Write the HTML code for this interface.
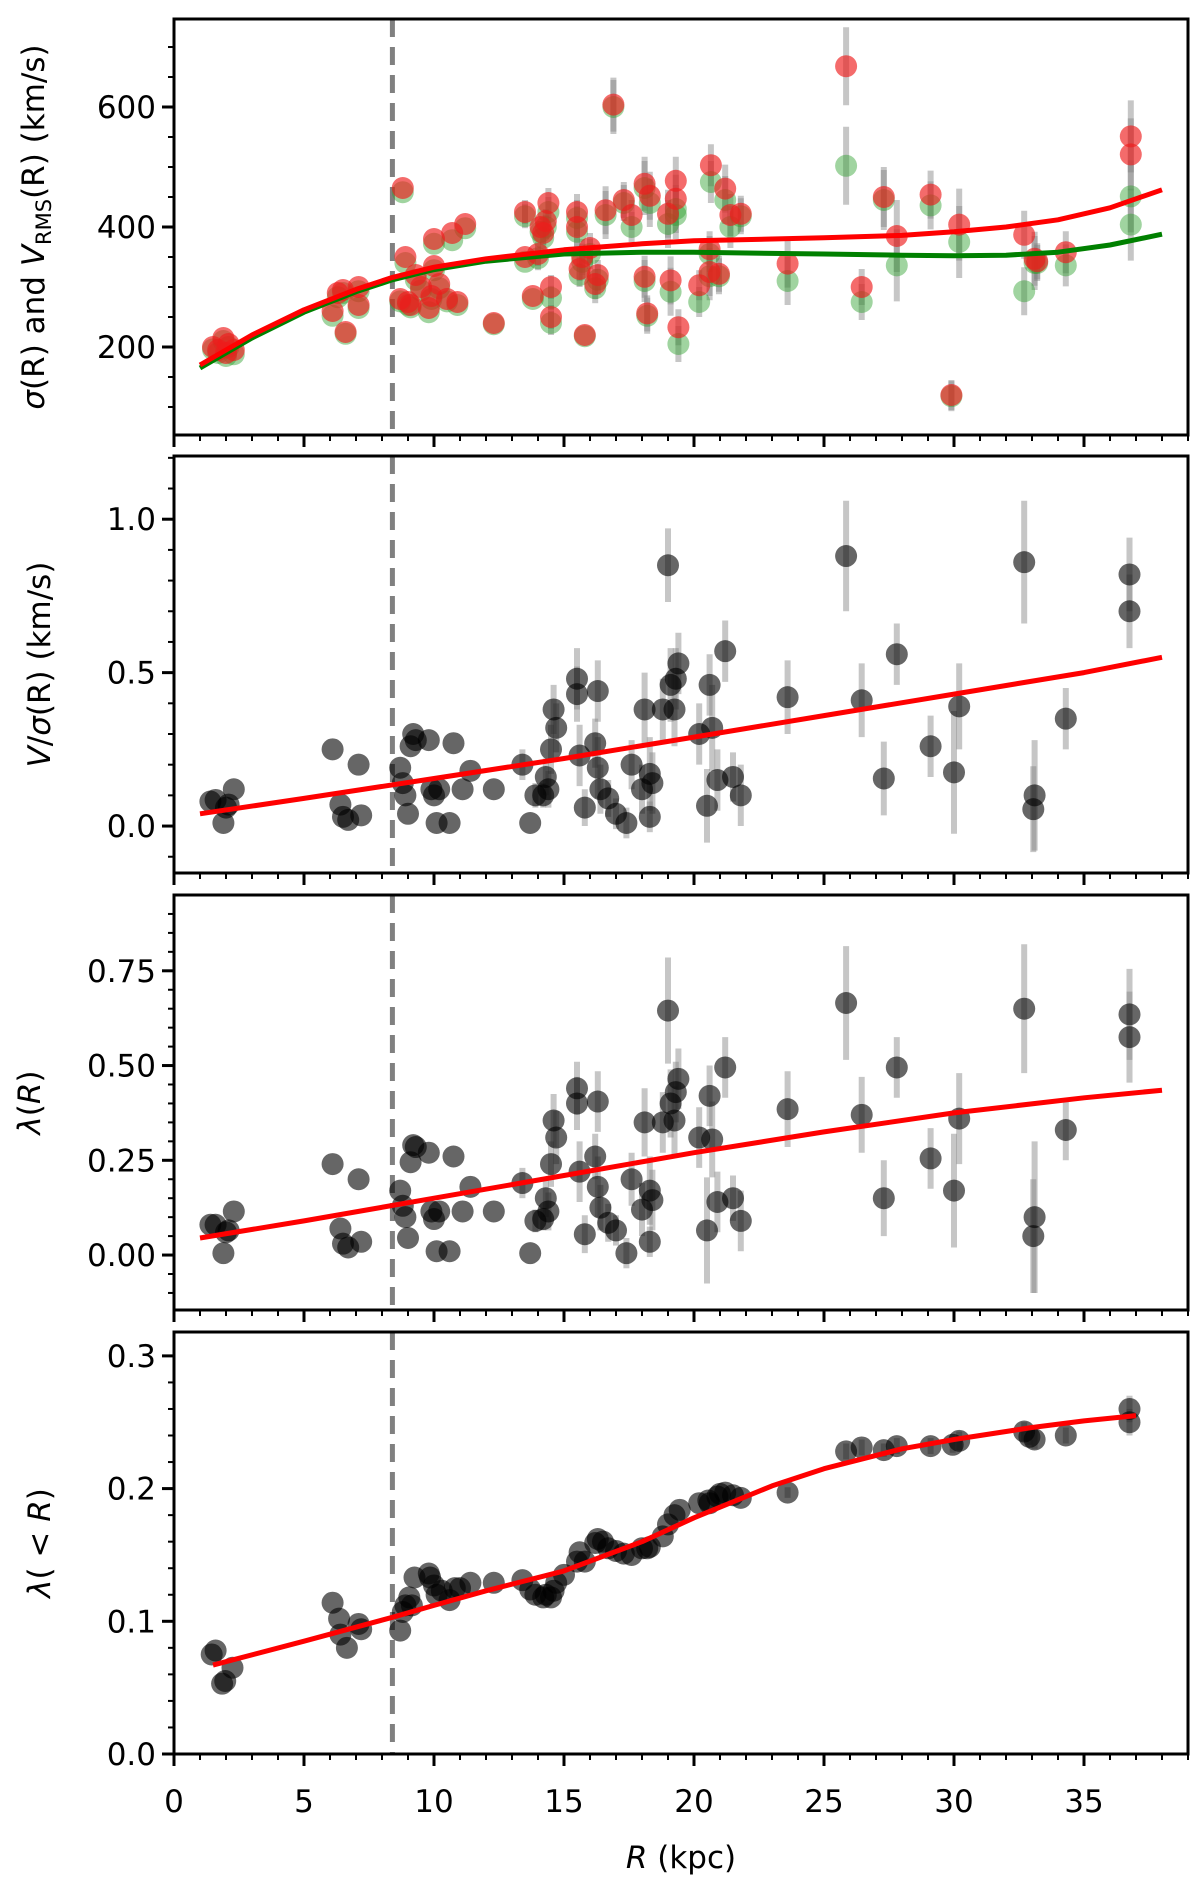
<!DOCTYPE html>
<html><head><meta charset="utf-8">
<style>
html,body{margin:0;padding:0;background:#fff;}
svg{display:block;font-family:"DejaVu Sans","Liberation Sans",sans-serif;}
</style></head>
<body>
<svg id="chart" width="1200" height="1879" viewBox="0 0 1200 1879" xmlns="http://www.w3.org/2000/svg"></svg>
<script>
// ---- Panel 1: sigma and V_RMS ----
const p1R = [1.5,1.7,1.9,2.0,2.1,2.3,6.1,6.3,6.5,6.6,7.1,7.1,8.8,8.7,8.9,9.0,9.1,9.3,9.5,9.8,9.9,10.0,10.0,10.2,10.5,10.7,10.9,11.2,12.3,13.5,13.5,13.8,14.0,14.1,14.2,14.3,14.4,14.5,14.5,15.5,15.5,15.6,15.7,15.8,16.0,16.2,16.3,16.6,16.9,17.3,17.6,18.1,18.3,18.1,18.2,19.3,19.3,19.0,19.1,19.4,20.2,20.65,20.6,20.6,20.96,21.2,21.4,21.8,23.6,25.85,26.45,27.3,27.8,29.1,30.2,29.9,32.7,33.1,33.2,34.3,36.8,36.8];
const p1Vrms = [200,195,215,190,205,195,260,290,295,225,300,270,465,280,350,275,270,320,300,265,285,335,380,305,280,390,275,405,240,425,350,285,355,400,390,410,440,300,250,425,400,330,350,220,365,305,320,428,604,445,420,472,452,317,256,477,447,422,311,233,303,503,363,325,322,464,420,422,339,668,300,450,385,454,404,120,387,347,343,358,551,521];
const p1Sigma = [196,190,210,185,200,188,252,283,290,222,293,265,458,276,340,270,266,312,294,258,280,328,372,298,276,378,270,398,238,418,342,280,348,392,382,400,425,282,240,415,392,320,342,218,355,298,312,420,600,440,400,465,440,310,252,430,420,405,292,205,275,475,355,318,318,445,400,418,310,502,275,445,336,436,375,118,293,340,340,336,451,404];
const p1Err = [0,0,0,0,0,0,0,0,0,0,0,0,0,0,0,0,0,0,0,0,0,0,0,0,0,0,0,0,0,20,0,0,20,0,20,20,25,20,20,30,35,20,30,0,25,25,25,40,45,30,25,45,40,35,30,40,40,40,40,30,25,35,30,40,30,40,35,30,40,65,30,50,60,40,60,25,40,45,30,35,60,60];
const p1FitR = [1,3,5,7,8.4,10,12,15,18,20,23,25,28,30,32,34,36,38];
const p1FitVrms = [170,220,262,296,316,333,347,362,372,377,380,382,386,392,400,412,432,462];
const p1FitSigma = [165,215,258,292,312,329,343,355,358,358,356,355,353,352,353,358,370,388];

// ---- Panel 2: V/sigma ----
const p2R = [1.4,1.6,1.9,2.0,2.3,2.1,6.1,6.4,6.5,6.7,7.1,7.2,8.7,8.8,8.9,9.0,9.2,9.3,9.1,9.8,9.9,10.0,10.1,10.2,10.6,10.75,11.1,11.4,12.3,13.4,13.7,13.9,14.2,14.3,14.5,14.6,14.7,14.4,15.5,15.5,15.6,15.8,16.2,16.3,16.3,16.4,16.7,17.0,17.4,17.6,18.0,18.1,18.3,18.4,18.3,18.8,19.0,19.1,19.25,19.4,19.3,20.2,20.5,20.6,20.7,20.9,21.2,21.5,21.8,23.6,25.85,26.45,27.3,27.8,29.1,30.0,30.2,32.7,33.1,33.05,34.3,36.75,36.75];
const p2Val = [0.08,0.085,0.01,0.06,0.12,0.07,0.25,0.07,0.03,0.02,0.2,0.035,0.19,0.14,0.1,0.04,0.3,0.28,0.26,0.28,0.12,0.1,0.01,0.12,0.01,0.27,0.12,0.18,0.12,0.2,0.01,0.1,0.1,0.16,0.25,0.38,0.32,0.12,0.48,0.43,0.23,0.06,0.27,0.44,0.19,0.12,0.09,0.04,0.01,0.2,0.12,0.38,0.17,0.14,0.03,0.38,0.85,0.46,0.38,0.53,0.48,0.3,0.066,0.46,0.32,0.15,0.57,0.16,0.1,0.42,0.88,0.41,0.155,0.56,0.26,0.175,0.39,0.86,0.1,0.055,0.35,0.82,0.70];
const p2Err = [0,0,0,0,0,0,0,0,0,0,0,0,0,0,0,0,0,0,0,0,0,0,0,0,0,0,0,0,0,0.05,0,0.04,0.04,0.06,0.08,0.08,0.08,0.06,0.1,0.09,0.1,0.06,0.08,0.1,0.1,0.08,0.06,0.05,0.05,0.08,0.08,0.12,0.12,0.1,0.05,0.1,0.12,0.12,0.12,0.1,0.1,0.1,0.12,0.1,0.14,0.1,0.1,0.08,0.1,0.12,0.18,0.12,0.12,0.1,0.1,0.2,0.14,0.2,0.18,0.14,0.1,0.12,0.12];
const p2FitR = [1,5,10,15,20,25,30,35,38];
const p2FitVal = [0.04,0.09,0.155,0.22,0.29,0.36,0.43,0.5,0.55];

// ---- Panel 3: lambda(R) ----
const p3R = p2R.slice();
const p3Val = [0.08,0.08,0.005,0.06,0.115,0.065,0.24,0.07,0.03,0.02,0.2,0.035,0.17,0.13,0.1,0.045,0.29,0.285,0.245,0.27,0.115,0.095,0.01,0.115,0.01,0.26,0.115,0.18,0.115,0.19,0.005,0.09,0.095,0.15,0.24,0.355,0.31,0.115,0.44,0.4,0.22,0.055,0.26,0.405,0.18,0.125,0.085,0.065,0.005,0.2,0.12,0.35,0.17,0.145,0.035,0.35,0.645,0.4,0.355,0.465,0.43,0.31,0.065,0.42,0.305,0.14,0.495,0.15,0.09,0.385,0.665,0.37,0.15,0.495,0.255,0.17,0.36,0.65,0.1,0.05,0.33,0.635,0.575];
const p3Err = [0,0,0,0,0,0,0,0,0,0,0,0,0,0,0,0,0,0,0,0,0,0,0,0,0,0,0,0,0,0.04,0,0.03,0.03,0.05,0.06,0.07,0.07,0.05,0.07,0.07,0.08,0.05,0.06,0.08,0.08,0.06,0.05,0.04,0.04,0.07,0.07,0.09,0.09,0.08,0.04,0.08,0.14,0.09,0.09,0.08,0.08,0.08,0.14,0.08,0.1,0.08,0.08,0.06,0.08,0.1,0.15,0.1,0.1,0.08,0.08,0.15,0.12,0.17,0.2,0.15,0.08,0.12,0.12];
const p3FitR = [1,5,10,15,20,25,30,35,38];
const p3FitVal = [0.045,0.09,0.15,0.21,0.27,0.325,0.375,0.415,0.435];

// ---- Panel 4: lambda(<R) ----
const p4R = [1.45,1.6,1.85,1.97,2.25,6.1,6.35,6.4,6.65,7.1,7.2,8.7,8.8,8.9,9.05,9.15,9.25,9.8,9.85,10.0,10.1,10.3,10.6,10.8,11.0,11.4,12.3,13.4,13.7,13.9,14.2,14.3,14.5,14.6,14.7,15.0,15.5,15.6,15.8,16.2,16.3,16.5,16.7,17.0,17.3,17.6,18.0,18.2,18.3,18.8,19.0,19.25,19.45,20.2,20.55,20.6,20.9,21.0,21.2,21.5,21.8,23.6,25.85,26.45,27.3,27.8,29.1,29.95,30.2,32.7,32.9,33.1,34.3,36.75,36.75];
const p4Val = [0.075,0.078,0.053,0.055,0.065,0.114,0.102,0.09,0.08,0.098,0.094,0.093,0.107,0.112,0.118,0.112,0.133,0.136,0.133,0.127,0.12,0.123,0.116,0.125,0.125,0.129,0.129,0.131,0.124,0.12,0.118,0.12,0.118,0.123,0.129,0.135,0.145,0.152,0.145,0.159,0.162,0.16,0.155,0.153,0.151,0.15,0.155,0.155,0.156,0.164,0.173,0.18,0.184,0.189,0.191,0.189,0.194,0.196,0.197,0.195,0.193,0.197,0.228,0.231,0.229,0.232,0.232,0.233,0.236,0.243,0.239,0.237,0.24,0.25,0.26];
const p4Err = [0,0,0,0,0,0,0,0,0,0,0,0,0,0,0,0,0,0,0,0,0,0,0,0,0,0,0,0,0,0,0,0,0,0,0,0,0,0,0,0,0,0,0,0,0,0,0,0,0,0,0,0,0,0,0,0,0,0,0,0,0,0.004,0.006,0.006,0.005,0.006,0.006,0.006,0.007,0.007,0.006,0.007,0.006,0.01,0.01];
const p4FitR = [1.5,5,8.4,10,12,15,18,20,23,25,28,30,33,35,37];
const p4FitVal = [0.067,0.085,0.103,0.112,0.123,0.138,0.16,0.178,0.202,0.215,0.23,0.237,0.246,0.251,0.255];

const xTicks = [0,5,10,15,20,25,30,35];
const xTickLabels = ["0","5","10","15","20","25","30","35"];

const NS = "http://www.w3.org/2000/svg";
const svg = document.getElementById('chart');
const X0 = 174, X1 = 1188, XMIN = 0, XMAX = 39;
const FS = 31;
function xs(v){ return X0 + (v - XMIN) / (XMAX - XMIN) * (X1 - X0); }
function mk(tag, attrs, parent){
  const e = document.createElementNS(NS, tag);
  for (const k in attrs) e.setAttribute(k, attrs[k]);
  (parent || svg).appendChild(e);
  return e;
}
function makeY(top, bottom, vTop, vBot){
  return v => bottom - (v - vBot) / (vTop - vBot) * (bottom - top);
}

function panel(cfg){
  const g = mk('g', {});
  
  
  const ys = makeY(cfg.top, cfg.bottom, cfg.vTop, cfg.vBot);
  const dl = mk('line', {x1:xs(8.4), x2:xs(8.4), y1:cfg.top, y2:cfg.bottom, stroke:'#808080', 'stroke-width':5, 'stroke-dasharray':'18,10'}, g);
  
  
  cfg.series.forEach(s => {
    s.R.forEach((r, i) => {
      const e = s.err[i];
      if (!e) return;
      const eb = mk('line', {x1:xs(r), x2:xs(r), y1:ys(s.v[i]-e), y2:ys(s.v[i]+e), stroke:'#808080', 'stroke-opacity':0.45, 'stroke-width':6}, g);
      
      
    });
  });
  cfg.series.forEach(s => {
    s.R.forEach((r, i) => {
      const c = mk('circle', {cx:xs(r), cy:ys(s.v[i]), r:11, fill:s.color, 'fill-opacity':s.alpha}, g);
      
      
    });
  });
  cfg.fits.forEach(f => {
    const d = f.R.map((r, i) => (i ? 'L' : 'M') + xs(r).toFixed(1) + ',' + ys(f.v[i]).toFixed(1)).join(' ');
    const p = mk('path', {d:d, fill:'none', stroke:f.color, 'stroke-width':5, 'stroke-linejoin':'round'}, g);
    
    
  });
  const fr = mk('rect', {x:X0, y:cfg.top, width:X1-X0, height:cfg.bottom-cfg.top, fill:'none', stroke:'#000', 'stroke-width':3}, g);
  
  
  for (let k = 0; k <= 39; k++){
    const major = k % 5 === 0;
    const t = mk('line', {x1:xs(k), x2:xs(k), y1:cfg.bottom, y2:cfg.bottom + (major ? 12 : 6), stroke:'#000', 'stroke-width':major?3:2}, g);
    
    
  }
  cfg.minor.forEach(v => {
    const t = mk('line', {x1:X0-6, x2:X0, y1:ys(v), y2:ys(v), stroke:'#000', 'stroke-width':2}, g);
    
    
  });
  cfg.major.forEach((v, i) => {
    const t = mk('line', {x1:X0-12, x2:X0, y1:ys(v), y2:ys(v), stroke:'#000', 'stroke-width':3}, g);
    
    
    const tl = mk('text', {x:X0-18, y:ys(v)+11, 'text-anchor':'end', 'font-size':FS, fill:'#000'}, g);
    tl.textContent = cfg.majorLabels[i];
    
    
  });
  const cy = (cfg.top + cfg.bottom) / 2;
  const lab = mk('text', {x:0, y:0, transform:'translate(' + cfg.labelX + ',' + cy + ') rotate(-90)', 'text-anchor':'middle', 'font-size':FS, fill:'#000'}, g);
  lab.innerHTML = cfg.label;
  
  
}

function range(a, b, s){ const out = []; for (let v = a; v <= b + 1e-9; v += s) out.push(+v.toFixed(4)); return out; }

panel({name:'sigma-vrms-panel', top:19, bottom:435, vTop:746.7, vBot:53.3,
  major:[200,400,600], majorLabels:['200','400','600'], minor:range(100,700,50),
  labelX:44,
  label:'<tspan font-style="italic">σ</tspan>(R) and <tspan font-style="italic">V</tspan><tspan font-size="21" dy="7">RMS</tspan><tspan dy="-7">(R) (km/s)</tspan>',
  series:[
    {R:p1R, v:p1Sigma, err:p1Err, color:'#2ca02c', alpha:0.45, pname:'sigma-point'},
    {R:p1R, v:p1Vrms, err:p1Err, color:'#ee1c1c', alpha:0.65, pname:'vrms-point'}],
  fits:[
    {R:p1FitR, v:p1FitSigma, color:'#008000', name:'sigma-fit-line'},
    {R:p1FitR, v:p1FitVrms, color:'#ff0000', name:'vrms-fit-line'}]
});
panel({name:'v-over-sigma-panel', top:456, bottom:873, vTop:1.206, vBot:-0.153,
  major:[0,0.5,1.0], majorLabels:['0.0','0.5','1.0'], minor:range(-0.1,1.2,0.1),
  labelX:50,
  label:'<tspan font-style="italic">V</tspan>/<tspan font-style="italic">σ</tspan>(R) (km/s)',
  series:[{R:p2R, v:p2Val, err:p2Err, color:'#000', alpha:0.6, pname:'v-sigma-point'}],
  fits:[{R:p2FitR, v:p2FitVal, color:'#ff0000', name:'v-sigma-fit-line'}]
});
panel({name:'lambda-panel', top:895, bottom:1310, vTop:0.95, vBot:-0.145,
  major:[0,0.25,0.5,0.75], majorLabels:['0.00','0.25','0.50','0.75'], minor:range(-0.1,0.9,0.05),
  labelX:40,
  label:'<tspan font-style="italic">λ</tspan>(<tspan font-style="italic">R</tspan>)',
  series:[{R:p3R, v:p3Val, err:p3Err, color:'#000', alpha:0.6, pname:'lambda-point'}],
  fits:[{R:p3FitR, v:p3FitVal, color:'#ff0000', name:'lambda-fit-line'}]
});
panel({name:'lambda-cumulative-panel', top:1332, bottom:1754, vTop:0.318, vBot:0,
  major:[0,0.1,0.2,0.3], majorLabels:['0.0','0.1','0.2','0.3'], minor:range(0.02,0.30,0.02),
  labelX:50,
  label:'<tspan font-style="italic">λ</tspan>( &lt; <tspan font-style="italic">R</tspan>)',
  series:[{R:p4R, v:p4Val, err:p4Err, color:'#000', alpha:0.6, pname:'lambda-cum-point'}],
  fits:[{R:p4FitR, v:p4FitVal, color:'#ff0000', name:'lambda-cum-fit-line'}]
});

xTicks.forEach((t, i) => {
  const tl = mk('text', {x:xs(t), y:1812, 'text-anchor':'middle', 'font-size':FS, fill:'#000'});
  tl.textContent = xTickLabels[i];
  
  
});
const xl = mk('text', {x:(X0+X1)/2, y:1868, 'text-anchor':'middle', 'font-size':FS, fill:'#000'});
xl.innerHTML = '<tspan font-style="italic">R</tspan> (kpc)';


</script>
</body></html>
